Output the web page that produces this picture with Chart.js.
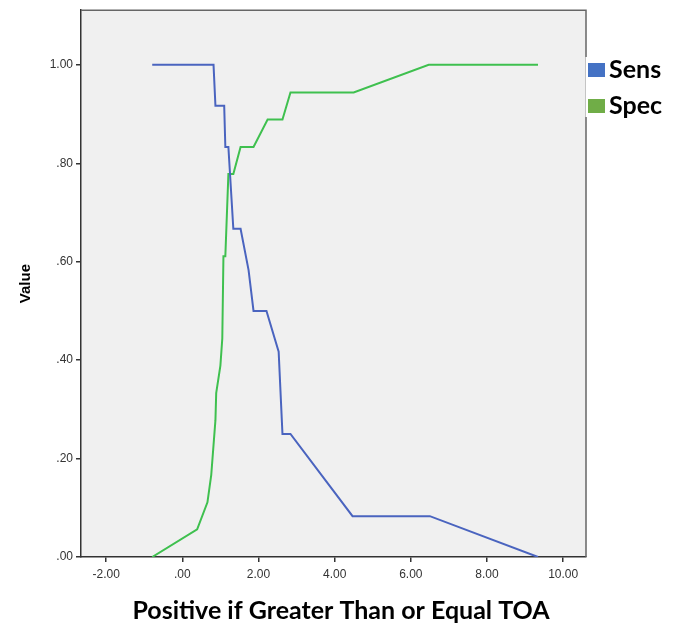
<!DOCTYPE html>
<html>
<head>
<meta charset="utf-8">
<script src="https://cdn.jsdelivr.net/npm/chart.js@4.4.1/dist/chart.umd.min.js"></script>
<style>
  html, body { margin: 0; padding: 0; background: #ffffff; }
  #wrap { position: relative; width: 684px; height: 629px; }
</style>
</head>
<body>
<div id="wrap"><canvas id="c" width="684" height="629"></canvas></div>
<script>
// ---- Data ----
const seriesNames = ["Sens", "Spec"];
const sensCutoffs = [-0.79, 0.82, 0.87, 1.10, 1.13, 1.21, 1.34, 1.53, 1.74, 1.87, 2.21, 2.53, 2.63, 2.84, 4.47, 6.50, 9.34];
const sensValues  = [1.000, 1.000, 0.917, 0.917, 0.833, 0.833, 0.667, 0.667, 0.583, 0.500, 0.500, 0.417, 0.250, 0.250, 0.083, 0.083, 0.000];
const specCutoffs = [-0.79, 0.39, 0.66, 0.76, 0.87, 0.89, 1.00, 1.05, 1.08, 1.13, 1.21, 1.34, 1.53, 1.87, 2.24, 2.63, 2.84, 4.50, 6.47, 9.34];
const specValues  = [0.000, 0.056, 0.111, 0.167, 0.278, 0.333, 0.389, 0.444, 0.611, 0.611, 0.778, 0.778, 0.833, 0.833, 0.889, 0.889, 0.944, 0.944, 1.000, 1.000];
const xTickValues = [-2, 0, 2, 4, 6, 8, 10];
const yTickValues = [0, 0.2, 0.4, 0.6, 0.8, 1.0];
const xTitle = "Positive if Greater Than or Equal TOA";
const yTitle = "Value";

const lineColors   = ["#4a64bf", "#3fc04f"];
const legendColors = ["#4472c4", "#70ad47"];

function fmt(v) {
  let s = Math.abs(v).toFixed(2);
  if (s.startsWith("0")) s = s.slice(1);
  return (v < 0 ? "-" : "") + s;
}
function toPoints(xs, ys) { return xs.map((x, i) => ({ x: x, y: ys[i] })); }

const plotBg = {
  id: "plotBg",
  beforeDraw(chart) {
    const { ctx, chartArea: a } = chart;
    ctx.save();
    ctx.fillStyle = "#f0f0f0";
    ctx.fillRect(a.left, a.top, a.right - a.left, a.bottom - a.top);
    ctx.restore();
  },
  afterDatasetsDraw(chart) {
    const { ctx, chartArea: a } = chart;
    ctx.save();
    ctx.strokeStyle = "#666666";
    ctx.lineWidth = 1.5;
    ctx.beginPath();
    ctx.moveTo(a.left, a.top);
    ctx.lineTo(a.right, a.top);
    ctx.lineTo(a.right, a.bottom);
    ctx.stroke();
    ctx.restore();
  }
};

const sideTexts = {
  id: "sideTexts",
  afterDraw(chart) {
    const { ctx, chartArea: a } = chart;
    ctx.save();
    // legend
    ctx.fillStyle = "#ffffff";
    ctx.fillRect(a.right - 0.5, 57, 30, 60);
    ctx.font = "bold 25px Lato, 'Liberation Sans', sans-serif";
    ctx.textBaseline = "alphabetic";
    ctx.textAlign = "left";
    const rows = [77, 113];
    chart.data.datasets.forEach((ds, i) => {
      ctx.fillStyle = legendColors[i];
      ctx.fillRect(a.right + 2, rows[i] - 14, 17, 14);
      ctx.fillStyle = "#000000";
      ctx.fillText(ds.label, a.right + 23, rows[i] + 1);
    });
    // x axis title
    ctx.font = "bold 25px Lato, 'Liberation Sans', sans-serif";
    ctx.textAlign = "center";
    ctx.fillText(xTitle, 341, 619);
    ctx.restore();
  }
};

new Chart(document.getElementById("c"), {
  type: "scatter",
  data: {
    datasets: [
      { label: seriesNames[0], data: toPoints(sensCutoffs, sensValues), showLine: true,
        borderColor: lineColors[0], backgroundColor: lineColors[0], borderWidth: 2,
        pointRadius: 0, pointHoverRadius: 0, tension: 0 },
      { label: seriesNames[1], data: toPoints(specCutoffs, specValues), showLine: true,
        borderColor: lineColors[1], backgroundColor: lineColors[1], borderWidth: 2,
        pointRadius: 0, pointHoverRadius: 0, tension: 0 }
    ]
  },
  options: {
    responsive: false,
    animation: false,
    devicePixelRatio: 1,
    layout: { padding: { left: 0, right: 98, top: 8, bottom: 0 } },
    plugins: { legend: { display: false }, tooltip: { enabled: false } },
    scales: {
      x: {
        type: "linear",
        min: -2.66, max: 10.6,
        afterBuildTicks(s) { s.ticks = xTickValues.map(v => ({ value: v })); },
        afterFit(s) { s.height = 72; },
        grid: { drawOnChartArea: false, drawTicks: true, tickLength: 5, color: "#333333", lineWidth: 1.5 },
        border: { display: true, color: "#333333", width: 1.5 },
        ticks: { callback: v => fmt(v), color: "#333333", font: { family: "'Liberation Sans', Arial, sans-serif", size: 12 }, padding: 5, maxRotation: 0, autoSkip: false },
        title: { display: false, text: xTitle }
      },
      y: {
        type: "linear",
        min: 0, max: 1.111,
        afterBuildTicks(s) { s.ticks = yTickValues.map(v => ({ value: v })); },
        afterFit(s) { s.width = 81; },
        grid: { drawOnChartArea: false, drawTicks: true, tickLength: 5, color: "#333333", lineWidth: 1.5 },
        border: { display: true, color: "#333333", width: 1.5 },
        ticks: { callback: v => fmt(v), color: "#333333", font: { family: "'Liberation Sans', Arial, sans-serif", size: 12 }, padding: 3, autoSkip: false },
        title: { display: true, text: yTitle, color: "#000000", font: { family: "'Liberation Sans', Arial, sans-serif", size: 15, weight: "bold" }, padding: { top: 17, bottom: 0 } }
      }
    }
  },
  plugins: [plotBg, sideTexts]
});
</script>
</body>
</html>
